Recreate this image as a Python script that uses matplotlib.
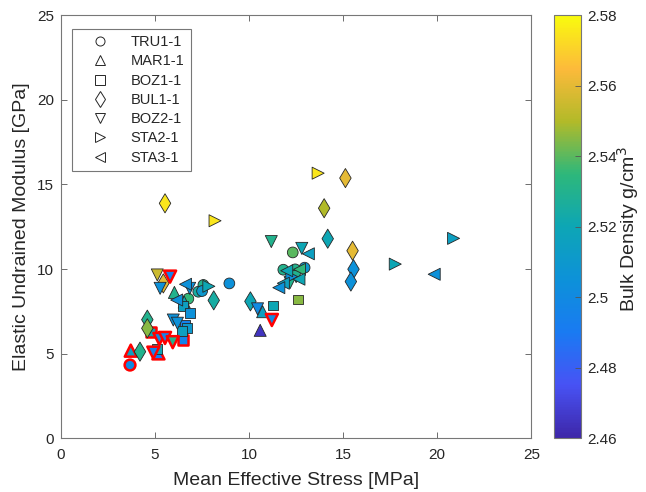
import matplotlib
matplotlib.use('Agg')
import matplotlib.pyplot as plt
from matplotlib.colors import LinearSegmentedColormap
from matplotlib.legend_handler import HandlerLine2D
from matplotlib.lines import Line2D
import numpy as np

plt.rcParams['font.family'] = ['Liberation Sans', 'DejaVu Sans']

# mean effective stress [MPa], undrained modulus [GPa], bulk density [g/cm3], red outline flag
tru_x = [3.67, 8.95, 7.57, 7.30, 7.50, 6.77, 12.32, 11.82, 12.45, 12.95]
tru_y = [4.33, 9.15, 9.06, 8.66, 8.70, 8.25, 10.98, 9.96, 9.98, 10.08]
tru_d = [2.500, 2.505, 2.530, 2.525, 2.510, 2.535, 2.540, 2.530, 2.530, 2.510]
tru_r = [1, 0, 0, 0, 0, 0, 0, 0, 0, 0]

mar_x = [3.71, 5.18, 10.59, 10.72, 6.03, 6.55]
mar_y = [5.18, 5.02, 6.38, 7.48, 8.62, 8.05]
mar_d = [2.515, 2.490, 2.465, 2.515, 2.530, 2.520]
mar_r = [1, 1, 0, 0, 0, 0]

boz1_x = [5.09, 4.77, 6.50, 6.50, 6.86, 6.60, 6.72, 6.45, 11.25, 12.60]
boz1_y = [5.30, 6.30, 5.83, 7.80, 7.42, 6.72, 6.50, 6.35, 7.85, 8.20]
boz1_d = [2.520, 2.520, 2.495, 2.515, 2.505, 2.495, 2.510, 2.515, 2.520, 2.545]
boz1_r = [0, 1, 1, 0, 0, 0, 0, 0, 0, 0]

bul_x = [5.53, 15.12, 13.99, 14.18, 15.50, 15.55, 15.41, 8.12, 10.07, 4.59, 4.59, 4.20, 5.44]
bul_y = [13.88, 15.37, 13.59, 11.79, 11.08, 9.99, 9.26, 8.15, 8.09, 7.01, 6.50, 5.12, 9.15]
bul_d = [2.575, 2.560, 2.550, 2.520, 2.560, 2.505, 2.505, 2.525, 2.520, 2.530, 2.545, 2.530, 2.560]
bul_r = [0] * 13

boz2_x = [5.12, 5.27, 6.84, 11.18, 12.80, 5.97, 6.19, 10.45, 12.50, 12.18,
          5.80, 4.91, 5.23, 5.53, 5.94, 11.21]
boz2_y = [9.65, 8.86, 8.86, 11.62, 11.22, 6.99, 6.80, 7.65, 9.55, 9.20,
          9.55, 5.06, 5.87, 5.93, 5.68, 6.99]
boz2_d = [2.555, 2.505, 2.505, 2.530, 2.520, 2.505, 2.505, 2.500, 2.530, 2.530,
          2.495, 2.495, 2.500, 2.495, 2.530, 2.500]
boz2_r = [0, 0, 0, 0, 0, 0, 0, 0, 0, 0, 1, 1, 1, 1, 1, 1]

sta2_x = [13.67, 8.19, 20.87, 17.77, 7.86, 12.27]
sta2_y = [15.66, 12.85, 11.81, 10.29, 8.98, 9.55]
sta2_d = [2.575, 2.575, 2.515, 2.520, 2.520, 2.505]
sta2_r = [0] * 6

sta3_x = [19.84, 13.15, 6.62, 6.15, 11.82, 11.58, 12.68, 12.00, 12.65]
sta3_y = [9.69, 10.90, 9.10, 8.17, 9.16, 8.90, 9.98, 9.90, 9.40]
sta3_d = [2.505, 2.515, 2.505, 2.505, 2.515, 2.505, 2.535, 2.520, 2.520]
sta3_r = [0] * 9

wells = ['TRU1-1', 'MAR1-1', 'BOZ1-1', 'BUL1-1', 'BOZ2-1', 'STA2-1', 'STA3-1']

parula = LinearSegmentedColormap.from_list('parula', [
    (0.000, (0.2422, 0.1504, 0.6603)),
    (0.125, (0.2810, 0.3228, 0.9579)),
    (0.250, (0.1000, 0.4800, 0.9500)),
    (0.375, (0.0500, 0.5700, 0.8500)),
    (0.500, (0.0500, 0.6500, 0.7100)),
    (0.625, (0.1800, 0.7200, 0.4800)),
    (0.750, (0.7000, 0.7300, 0.1600)),
    (0.875, (0.9900, 0.7300, 0.2300)),
    (1.000, (0.9763, 0.9831, 0.0538)),
])


class OffsetMarker(HandlerLine2D):
    # put the legend marker right of the handle centre
    def get_xdata(self, legend, xdescent, ydescent, width, height, fontsize):
        xd, _ = super().get_xdata(legend, xdescent, ydescent, width, height, fontsize)
        return xd, np.array([-xdescent + 0.66 * width])


fig = plt.figure(figsize=(6.46, 4.92), dpi=100)
ax = fig.add_axes([0.0944, 0.109, 0.728, 0.8605])
cax = fig.add_axes([0.858, 0.109, 0.041, 0.8605])

groups = [
    (tru_x, tru_y, tru_d, tru_r, 'o', 60),
    (mar_x, mar_y, mar_d, mar_r, '^', 75),
    (boz1_x, boz1_y, boz1_d, boz1_r, 's', 50),
    (bul_x, bul_y, bul_d, bul_r, 'd', 95),
    (boz2_x, boz2_y, boz2_d, boz2_r, 'v', 75),
    (sta2_x, sta2_y, sta2_d, sta2_r, '>', 75),
    (sta3_x, sta3_y, sta3_d, sta3_r, '<', 75),
]

sc = None
for gx, gy, gd, gr, mk, sz in groups:
    gr = np.array(gr, dtype=bool)
    ec = np.where(gr, 'red', '#262626')
    lw = np.where(gr, 1.8, 0.6)
    sc = ax.scatter(gx, gy, c=gd, cmap=parula, vmin=2.46, vmax=2.58, marker=mk, s=sz,
                    edgecolors=list(ec), linewidths=list(lw), zorder=3)

ax.set_xlim(0, 25)
ax.set_ylim(0, 25)
ax.set_xticks(range(0, 26, 5))
ax.set_yticks(range(0, 26, 5))
ax.tick_params(direction='in', top=True, right=True, length=4, width=0.6,
               labelsize=11, colors='#555555', labelcolor='#262626')
ax.tick_params(axis='x', pad=7)
ax.tick_params(axis='y', pad=5)
for sp in ax.spines.values():
    sp.set_color('#777777')
    sp.set_linewidth(0.8)
ax.set_xlabel('Mean Effective Stress [MPa]', fontsize=14, color='#262626', labelpad=7)
ax.set_ylabel('Elastic Undrained Modulus [GPa]', fontsize=14, color='#262626', labelpad=5)

handles = [Line2D([], [], linestyle='none', marker=m, markersize=6.5 if m != 'd' else 8,
                  markerfacecolor='none', markeredgecolor='#262626', markeredgewidth=0.7)
           for m in ['o', '^', 's', 'd', 'v', '>', '<']]
leg = ax.legend(handles, wells, loc='upper left', bbox_to_anchor=(0.0234, 0.968),
                fontsize=10.5, frameon=True, fancybox=False, borderpad=0.45,
                labelspacing=0.36, handletextpad=0.57, handlelength=3.0, borderaxespad=0,
                handler_map={Line2D: OffsetMarker()})
leg.get_frame().set_edgecolor('#555555')
leg.get_frame().set_linewidth(0.8)
for t in leg.get_texts():
    t.set_color('#262626')

cb = fig.colorbar(sc, cax=cax)
cb.set_ticks([2.46, 2.48, 2.50, 2.52, 2.54, 2.56, 2.58])
cb.set_ticklabels(['2.46', '2.48', '2.5', '2.52', '2.54', '2.56', '2.58'])
cb.ax.tick_params(direction='in', length=4, width=0.6, labelsize=11, colors='#555555',
                  labelcolor='#262626', pad=5)
cb.outline.set_edgecolor('#777777')
cb.outline.set_linewidth(0.8)
fig.text(0.972, 0.535, 'Bulk Density g/cm$^3$', rotation=90, fontsize=14, color='#262626',
         ha='center', va='center')

fig.savefig('out.png', dpi=100)
